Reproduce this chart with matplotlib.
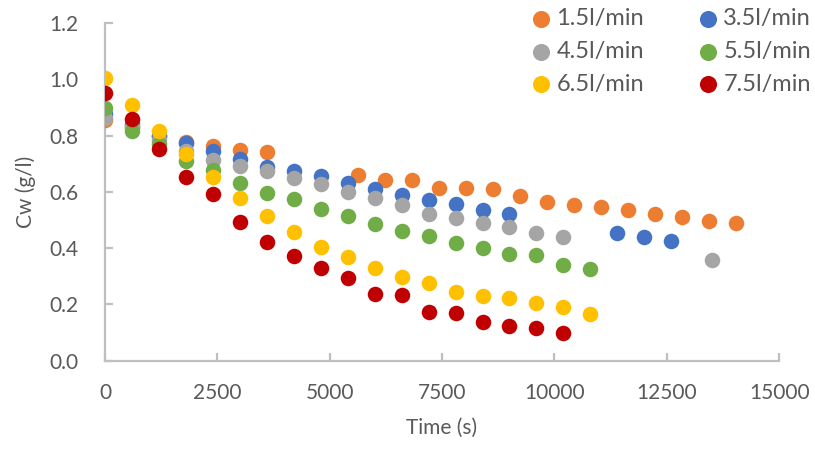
import matplotlib
matplotlib.use("Agg")
import matplotlib.pyplot as plt

# data
t_15 = [0, 600, 1200, 1800, 2400, 3000, 3600, 5640, 6240, 6840, 7440, 8040, 8640,
        9240, 9840, 10440, 11040, 11640, 12240, 12840, 13440, 14040]
c_15 = [0.855, 0.83, 0.80, 0.777, 0.764, 0.748, 0.740, 0.660, 0.642, 0.642, 0.615,
        0.612, 0.609, 0.585, 0.565, 0.552, 0.547, 0.536, 0.521, 0.510, 0.497, 0.489]

t_35 = [0, 600, 1200, 1800, 2400, 3000, 3600, 4200, 4800, 5400, 6000, 6600, 7200,
        7800, 8400, 9000, 11400, 12000, 12600]
c_35 = [0.875, 0.84, 0.80, 0.772, 0.746, 0.717, 0.687, 0.675, 0.656, 0.632, 0.609,
        0.589, 0.571, 0.556, 0.535, 0.521, 0.453, 0.441, 0.426]

t_45 = [0, 600, 1200, 1800, 2400, 3000, 3600, 4200, 4800, 5400, 6000, 6600, 7200,
        7800, 8400, 9000, 9600, 10200, 13500]
c_45 = [0.861, 0.83, 0.784, 0.745, 0.713, 0.693, 0.674, 0.648, 0.627, 0.600, 0.577,
        0.552, 0.521, 0.508, 0.488, 0.476, 0.455, 0.441, 0.358]

t_55 = [0, 600, 1200, 1800, 2400, 3000, 3600, 4200, 4800, 5400, 6000, 6600, 7200,
        7800, 8400, 9000, 9600, 10200, 10800]
c_55 = [0.897, 0.816, 0.77, 0.710, 0.676, 0.632, 0.595, 0.573, 0.538, 0.515, 0.485,
        0.461, 0.443, 0.417, 0.399, 0.379, 0.374, 0.340, 0.325]

t_65 = [0, 600, 1200, 1800, 2400, 3000, 3600, 4200, 4800, 5400, 6000, 6600, 7200,
        7800, 8400, 9000, 9600, 10200, 10800]
c_65 = [1.005, 0.908, 0.817, 0.736, 0.652, 0.577, 0.514, 0.456, 0.404, 0.367, 0.330,
        0.298, 0.277, 0.245, 0.231, 0.222, 0.204, 0.192, 0.166]

t_75 = [0, 600, 1200, 1800, 2400, 3000, 3600, 4200, 4800, 5400, 6000, 6600, 7200,
        7800, 8400, 9000, 9600, 10200]
c_75 = [0.950, 0.858, 0.752, 0.652, 0.592, 0.494, 0.423, 0.373, 0.329, 0.293, 0.238,
        0.232, 0.172, 0.171, 0.138, 0.124, 0.117, 0.100]

labels = ["1.5l/min", "3.5l/min", "4.5l/min", "5.5l/min", "6.5l/min", "7.5l/min"]
colors = ["#ED7D31", "#4472C4", "#A5A5A5", "#70AD47", "#FFC000", "#C00000"]
series = [(t_15, c_15), (t_35, c_35), (t_45, c_45), (t_55, c_55), (t_65, c_65), (t_75, c_75)]

plt.rcParams['font.family'] = ['Lato', 'DejaVu Sans']
txt = "#595959"
axc = "#BFBFBF"
fs = 15
lfs = 17

fig = plt.figure(figsize=(8.15, 4.5), dpi=100)
ax = fig.add_axes([0.1288, 0.1984, 0.8272, 0.7506])

handles = []
for (t, c), lab, col in zip(series, labels, colors):
    h = ax.scatter(t, c, s=125, color=col, label=lab, linewidths=0, zorder=3)
    handles.append(h)

ax.set_xlim(0, 15000)
ax.set_ylim(0, 1.2)
ax.set_xticks(range(0, 15001, 2500))
yt = [0, 0.2, 0.4, 0.6, 0.8, 1.0, 1.2]
ax.set_yticks(yt)
ax.set_yticklabels([f"{v:.1f}" for v in yt])

for s in ["top", "right"]:
    ax.spines[s].set_visible(False)
for s in ["left", "bottom"]:
    ax.spines[s].set_color(axc)
    ax.spines[s].set_linewidth(1.6)
ax.tick_params(direction="in", length=6, width=1.6, color=axc, labelcolor=txt,
               labelsize=fs)
ax.tick_params(axis="x", pad=16)
ax.tick_params(axis="y", pad=19)

ax.set_xlabel("Time (s)", color=txt, fontsize=fs, labelpad=11)
ax.set_ylabel("Cw (g/l)", color=txt, fontsize=fs, labelpad=10)

# two one-column legends, placed like the reference's 2x3 legend
cols = [[0, 2, 4], [1, 3, 5]]
xs = [541, 708]
for idx, xm in zip(cols, xs):
    leg = fig.legend([handles[i] for i in idx], [labels[i] for i in idx],
                     loc="upper left", bbox_to_anchor=((xm - 11.8) / 815, 1 - 8 / 450),
                     frameon=False, fontsize=lfs, handletextpad=0.15, markerscale=1.1,
                     labelspacing=0.5, borderpad=0, borderaxespad=0, handlelength=1.0)
    for t in leg.get_texts():
        t.set_color(txt)

fig.savefig("out.png", dpi=100)
